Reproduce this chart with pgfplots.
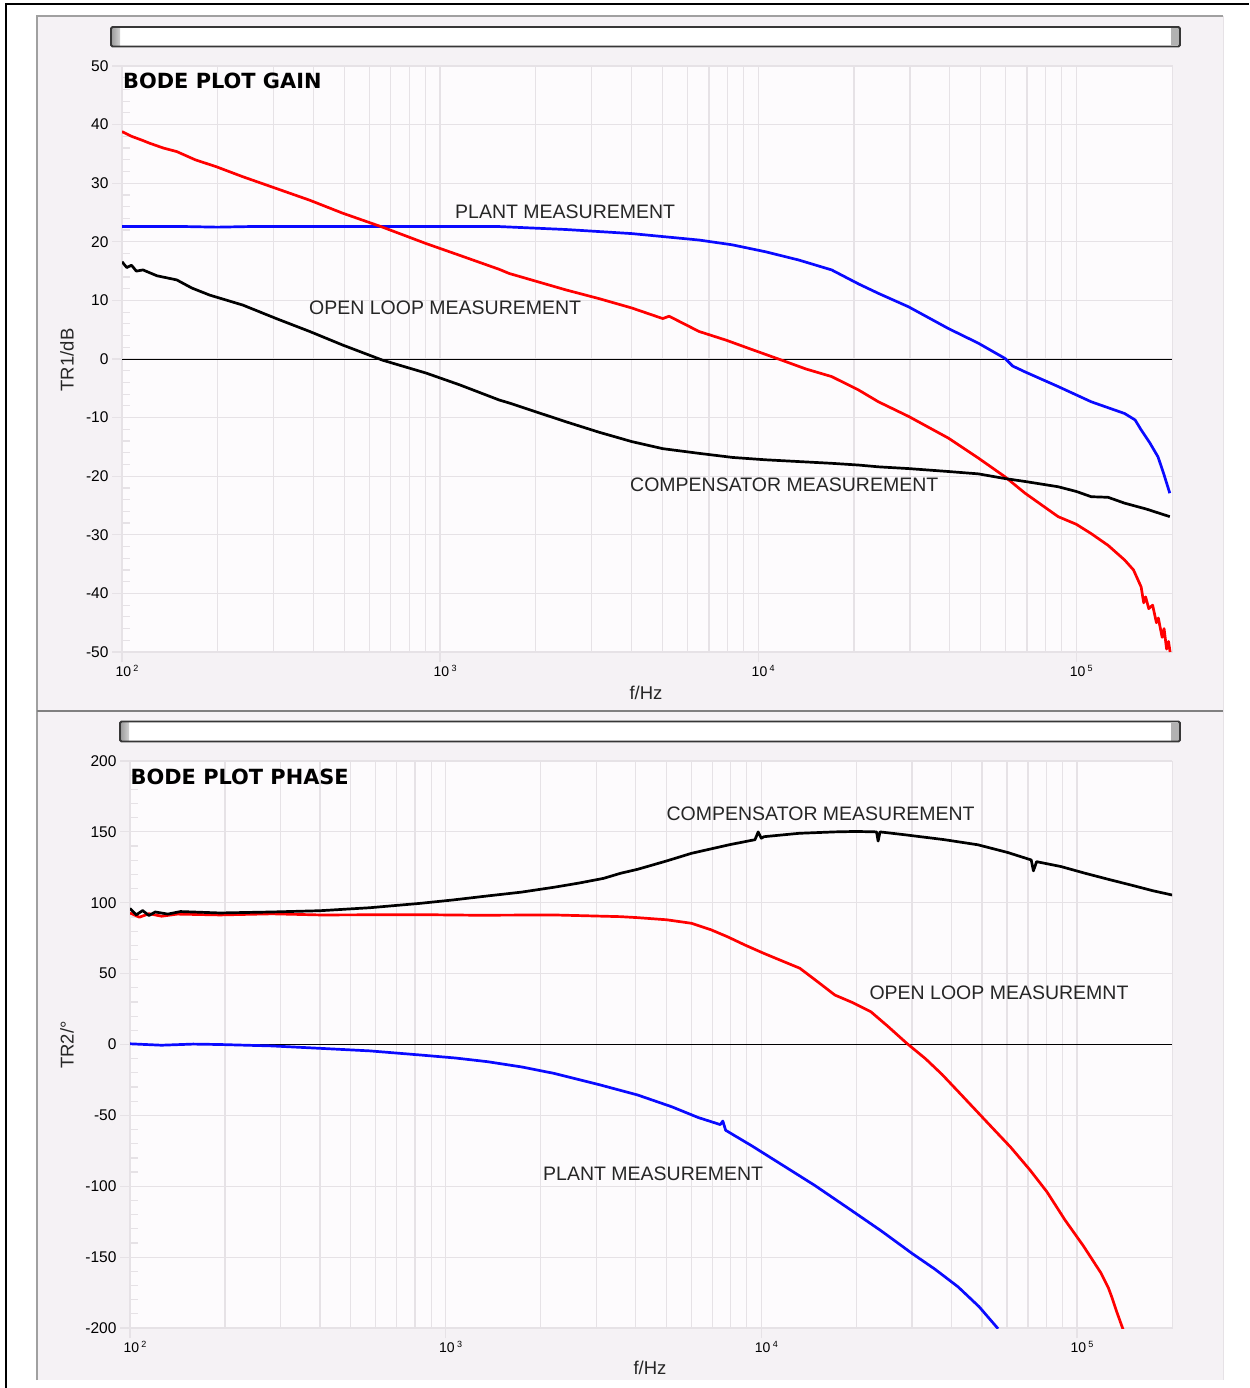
\documentclass[border=0pt]{standalone}
\usepackage{pgfplots}
\pgfplotsset{compat=1.18}
\usepackage{fontspec}
\setmainfont{Liberation Sans}
\newfontfamily\titlefont{DejaVu Sans}
\definecolor{panelbg}{RGB}{245,242,245}
\definecolor{plotbg}{RGB}{253,251,253}
\definecolor{gridc}{RGB}{230,226,230}
\definecolor{panelline}{RGB}{160,160,160}
\definecolor{sbborder}{RGB}{55,55,55}
\definecolor{cred}{RGB}{255,0,0}
\definecolor{cblue}{RGB}{10,10,255}
\pgfplotsset{bodeax/.style={
  scale only axis, xmin=2, xmax=5.301,
  axis background/.style={fill=plotbg},
  axis line style={gridc, line width=1pt},
  xtick={2,3,4,5},
  xticklabels={10\,\raisebox{5pt}{\fontsize{9}{9}\selectfont 2},10\,\raisebox{5pt}{\fontsize{9}{9}\selectfont 3},10\,\raisebox{5pt}{\fontsize{9}{9}\selectfont 4},10\,\raisebox{5pt}{\fontsize{9}{9}\selectfont 5}},
  minor xtick={2.30103,2.47712,2.60206,2.69897,2.77815,2.84510,2.90309,2.95424,
    3.30103,3.47712,3.60206,3.69897,3.77815,3.84510,3.90309,3.95424,
    4.30103,4.47712,4.60206,4.69897,4.77815,4.84510,4.90309,4.95424},
  xmajorgrids, xminorgrids, ymajorgrids,
  major grid style={gridc, line width=1.2pt},
  minor grid style={gridc, line width=1.2pt},
  tick style={gridc, line width=1.2pt},
  tick pos=left,
  tick align=outside,
  major tick length=10pt, minor tick length=0pt,
  xticklabel style={font=\fontsize{14}{14}\selectfont, text=black, anchor=north, xshift=5pt},
  yticklabel style={font=\fontsize{15.5}{15.5}\selectfont, text=black},
  extra y tick style={grid=none, tick align=inside, major tick length=8pt},
  extra y tick labels={},
}}
\begin{document}
\begin{tikzpicture}[x=1pt,y=1pt]
\useasboundingbox (0,0) rectangle (1249,-1388);
\fill[white] (0,0) rectangle (1249,-1388);
% panels
\fill[panelbg] (37,-16) rectangle (1223,-1380);
\draw[gridc, line width=1pt] (1223,-16) -- (1223,-1380);
\draw[panelline, line width=1.2pt] (37,-1380) -- (37,-16) -- (1223,-16);
\draw[panelline!80!black, line width=1.4pt] (37,-711) -- (1223,-711);
% outer frame
\draw[black, line width=2.5pt] (6,-1388) -- (6,-4) -- (1249,-4);
% scrollbars
\fill[white] (111,-27) rectangle (1180,-46.5);
\fill[left color=gray!75, right color=gray!35] (112,-28) rectangle (120,-45.5);
\fill[gray!60] (1171,-28) rectangle (1179,-45.5);
\draw[sbborder, line width=1.8pt, rounded corners=1.5pt] (111,-27) rectangle (1180,-46.5);
\fill[white] (120,-721.5) rectangle (1180,-741.5);
\fill[left color=gray!75, right color=gray!35] (121,-722.5) rectangle (129,-740.5);
\fill[gray!60] (1171,-722.5) rectangle (1179,-740.5);
\draw[sbborder, line width=1.8pt, rounded corners=1.5pt] (120,-721.5) rectangle (1180,-741.5);

% ---------------- GAIN ----------------
\begin{axis}[bodeax, at={(122pt,-652pt)}, anchor=south west,
  width=1050pt, height=586pt, ymin=-50, ymax=50,
  ytick={-50,-40,-30,-20,-10,0,10,20,30,40,50},
  yticklabels={-50,-40,-30,-20,-10,0,10,20,30,40,50},
  extra y ticks={-48,-46,-44,-42,-38,-36,-34,-32,-28,-26,-24,-22,-18,-16,-14,-12,-8,-6,-4,-2,2,4,6,8,12,14,16,18,22,24,26,28,32,34,36,38,42,44,46,48}]
\draw[black, line width=1pt] (axis cs:2,0) -- (axis cs:5.301,0);
% plant (blue)
\addplot[cblue, line width=2.7pt, line join=round] coordinates {
(2.000,22.6) (2.20,22.6) (2.30,22.5) (2.40,22.6) (2.60,22.6) (2.80,22.6) (3.00,22.6) (3.186,22.6)
(3.395,22.1) (3.603,21.4) (3.814,20.3) (3.917,19.5) (4.023,18.3) (4.127,16.9) (4.231,15.2)
(4.316,12.8) (4.378,11.2) (4.473,8.9) (4.598,5.2) (4.692,2.7) (4.776,0.1) (4.80,-1.2) (4.839,-2.2)
(4.943,-4.7) (5.047,-7.3) (5.152,-9.3) (5.185,-10.4) (5.204,-12.1) (5.230,-14.2) (5.257,-16.7) (5.275,-19.6) (5.294,-22.9)};
% open loop (red)
\addplot[cred, line width=2.7pt, line join=round] coordinates {
(2.000,38.8) (2.030,38.0) (2.060,37.4) (2.088,36.8) (2.130,36.0) (2.172,35.4) (2.230,34.0) (2.297,32.8)
(2.380,31.1) (2.485,29.1) (2.590,27.1) (2.693,24.9) (2.819,22.5) (2.956,19.7) (3.061,17.7)
(3.186,15.3) (3.217,14.6) (3.395,11.8) (3.500,10.3) (3.603,8.7) (3.700,6.9) (3.720,7.3) (3.814,4.7)
(3.900,3.2) (3.971,1.8) (4.074,-0.2) (4.150,-1.7) (4.231,-3.0) (4.316,-5.3) (4.378,-7.3)
(4.473,-9.8) (4.598,-13.5) (4.692,-16.9) (4.776,-20.1) (4.839,-22.9) (4.943,-26.9)
(5.000,-28.2) (5.047,-29.8) (5.100,-31.8) (5.152,-34.3) (5.180,-36.0) (5.204,-38.9)
(5.212,-41.6) (5.218,-40.6) (5.228,-42.6) (5.240,-42.0) (5.252,-45.0) (5.258,-44.2)
(5.270,-47.5) (5.276,-46.0) (5.284,-49.5) (5.290,-48.2) (5.295,-50.0)};
% compensator (black)
\addplot[black, line width=2.7pt, line join=round] coordinates {
(2.000,16.6) (2.015,15.6) (2.030,16.0) (2.045,15.0) (2.066,15.2) (2.110,14.2) (2.172,13.5)
(2.220,12.1) (2.276,10.9) (2.380,9.2) (2.485,6.9) (2.590,4.7) (2.693,2.4) (2.819,-0.2)
(2.956,-2.4) (3.061,-4.4) (3.186,-7.0) (3.217,-7.5) (3.395,-10.7) (3.500,-12.5) (3.603,-14.1)
(3.700,-15.3) (3.814,-16.1) (3.920,-16.8) (4.023,-17.2) (4.231,-17.8) (4.316,-18.1)
(4.378,-18.4) (4.473,-18.7) (4.598,-19.2) (4.692,-19.6) (4.776,-20.4) (4.839,-20.9)
(4.943,-21.8) (5.000,-22.6) (5.047,-23.5) (5.100,-23.6) (5.152,-24.6) (5.220,-25.6) (5.294,-26.9)};
\end{axis}

% ---------------- PHASE ----------------
\begin{axis}[bodeax, at={(130pt,-1328pt)}, anchor=south west,
  width=1042pt, height=567pt, ymin=-200, ymax=200,
  ytick={-200,-150,-100,-50,0,50,100,150,200},
  yticklabels={-200,-150,-100,-50,0,50,100,150,200},
  extra y ticks={-190,-180,-170,-160,-140,-130,-120,-110,-90,-80,-70,-60,-40,-30,-20,-10,10,20,30,40,60,70,80,90,110,120,130,140,160,170,180,190}]
\draw[black, line width=1pt] (axis cs:2,0) -- (axis cs:5.301,0);
% plant (blue)
\addplot[cblue, line width=2.7pt, line join=round] coordinates {
(2.000,0.5) (2.100,-0.5) (2.200,0.3) (2.285,0) (2.450,-1.0) (2.603,-2.7) (2.760,-4.5) (2.920,-7.4)
(3.030,-9.5) (3.132,-12.1) (3.240,-15.8) (3.342,-20.3) (3.491,-28.6) (3.608,-35.6)
(3.716,-43.9) (3.800,-51.5) (3.870,-56.5) (3.878,-54.0) (3.887,-60.5) (3.970,-71.5) (4.058,-83.8)
(4.170,-99.5) (4.284,-116.8) (4.380,-131.5) (4.477,-147.3) (4.550,-158.5) (4.623,-170.9)
(4.690,-185.0) (4.750,-200.5)};
% open loop (red)
\addplot[cred, line width=2.7pt, line join=round] coordinates {
(2.000,92.8) (2.030,89.8) (2.060,92.3) (2.100,90.5) (2.150,92.0) (2.285,91.4) (2.450,92.2) (2.603,91.4)
(2.920,91.6) (3.100,91.2) (3.342,91.4) (3.554,90.2) (3.608,89.5) (3.700,88.0) (3.779,85.5)
(3.840,81.0) (3.893,76.0) (3.950,70.0) (4.008,64.3) (4.060,59.5) (4.122,53.8) (4.180,44.0) (4.233,34.9)
(4.290,29.5) (4.347,23.1) (4.400,13.0) (4.461,0.8) (4.520,-10.0) (4.572,-21.0) (4.623,-33.0)
(4.680,-46.5) (4.737,-60.0) (4.790,-72.5) (4.851,-88.5) (4.905,-104.0) (4.962,-123.8)
(5.020,-142.0) (5.076,-161.2) (5.100,-172.0) (5.110,-178.0) (5.125,-188.0) (5.146,-201.0)};
% compensator (black)
\addplot[black, line width=2.7pt, line join=round] coordinates {
(2.000,96.0) (2.020,91.5) (2.040,94.5) (2.060,91.0) (2.080,93.5) (2.120,92.0) (2.160,93.8)
(2.285,92.8) (2.450,93.5) (2.603,94.4) (2.760,96.5) (2.920,99.6) (3.024,102.0) (3.132,104.8)
(3.240,107.5) (3.342,110.9) (3.420,113.8) (3.500,117.2) (3.554,120.8) (3.608,123.6)
(3.700,129.5) (3.779,134.9) (3.900,141.0) (3.980,144.5) (3.990,150.0) (4.000,145.5) (4.008,146.6)
(4.120,149.0) (4.233,150.0) (4.300,150.3) (4.365,150.0) (4.370,143.5) (4.376,150.0)
(4.461,147.8) (4.580,144.5) (4.686,140.9) (4.780,135.5) (4.855,130.2) (4.862,122.5) (4.872,129.0)
(4.950,125.5) (5.026,120.8) (5.100,116.5) (5.180,112.0) (5.240,108.5) (5.305,105.3)};
\end{axis}

% titles, annotations and axis labels
\node[anchor=west, inner sep=0pt, font=\titlefont\bfseries\fontsize{20.9}{21}\selectfont] at (123,-80.5) {BODE PLOT GAIN};
\node[anchor=west, inner sep=0pt, font=\titlefont\bfseries\fontsize{20.9}{21}\selectfont] at (130.5,-776.7) {BODE PLOT PHASE};
\begin{scope}[every node/.style={anchor=west, inner sep=0pt, font=\fontsize{19.5}{20}\selectfont, text=black!85}]
\node at (455,-211.7) {PLANT MEASUREMENT};
\node at (309,-307.3) {OPEN LOOP MEASUREMENT};
\node at (630,-484.5) {COMPENSATOR MEASUREMENT};
\node at (666.4,-813.3) {COMPENSATOR MEASUREMENT};
\node at (869.3,-993) {OPEN LOOP MEASUREMNT};
\node at (543,-1174) {PLANT MEASUREMENT};
\end{scope}
\begin{scope}[every node/.style={inner sep=0pt, font=\fontsize{18.5}{19}\selectfont, text=black!85}]
\node[rotate=90] at (67,-360) {TR1/dB};
\node at (646,-693) {f/Hz};
\node[rotate=90] at (67,-1045) {TR2/°};
\node at (650,-1368) {f/Hz};
\end{scope}
\end{tikzpicture}
\end{document}
